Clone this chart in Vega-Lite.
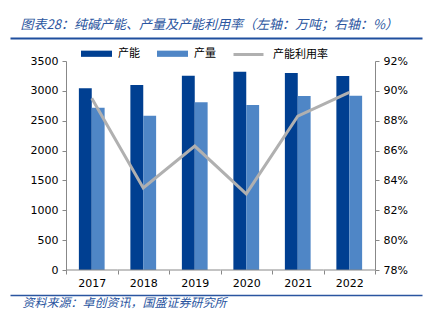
{
  "$schema": "https://vega.github.io/schema/vega-lite/v6.json",
  "width": 412,
  "height": 209,
  "autosize": {"type": "none"},
  "padding": {"left": 10, "top": 61, "right": 9, "bottom": 52},
  "background": "white",
  "config": {
    "view": {"stroke": null},
    "font": "DejaVu Sans",
    "axis": {"grid": false, "labelColor": "#000000", "labelFontSize": 11, "labelFont": "DejaVu Sans", "labelFontWeight": "normal"}
  },
  "datasets": {
    "bars": [
      {"year": "2017", "series": "产能", "value": 3043},
      {"year": "2017", "series": "产量", "value": 2718},
      {"year": "2018", "series": "产能", "value": 3098},
      {"year": "2018", "series": "产量", "value": 2584},
      {"year": "2019", "series": "产能", "value": 3254},
      {"year": "2019", "series": "产量", "value": 2808},
      {"year": "2020", "series": "产能", "value": 3321},
      {"year": "2020", "series": "产量", "value": 2763},
      {"year": "2021", "series": "产能", "value": 3299},
      {"year": "2021", "series": "产量", "value": 2914},
      {"year": "2022", "series": "产能", "value": 3249},
      {"year": "2022", "series": "产量", "value": 2919}
    ],
    "rate": [
      {"year": "2017", "rate": 0.895},
      {"year": "2018", "rate": 0.835},
      {"year": "2019", "rate": 0.863},
      {"year": "2020", "rate": 0.831},
      {"year": "2021", "rate": 0.883},
      {"year": "2022", "rate": 0.899}
    ]
  },
  "layer": [
    {
      "layer": [
        {
          "data": {"name": "bars"},
          "mark": {"type": "bar"},
          "encoding": {
            "x": {
              "field": "year", "type": "nominal",
              "scale": {"paddingInner": 0, "paddingOuter": 1, "align": 0.5437},
              "axis": {
                "orient": "bottom", "title": null, "labelAngle": 0, "domain": false,
                "tickBand": "extent", "tickColor": "#888888", "tickSize": 4,
                "labelPadding": 3, "labelFontSize": 11
              }
            },
            "xOffset": {
              "field": "series", "type": "nominal",
              "scale": {"domain": ["产能", "产量"], "paddingInner": 0, "paddingOuter": 1.077}
            },
            "y": {
              "field": "value", "type": "quantitative",
              "scale": {"domain": [0, 3500], "nice": false},
              "axis": {
                "orient": "left", "offset": -56, "title": null, "format": "d",
                "labelOverlap": false, "tickCount": 8,
                "values": [0, 500, 1000, 1500, 2000, 2500, 3000, 3500],
                "domainColor": "#888888", "tickColor": "#888888", "tickSize": 4,
                "labelPadding": 4
              }
            },
            "color": {
              "field": "series", "type": "nominal",
              "scale": {"domain": ["产能", "产量"], "range": ["#003f91", "#4f86c6"]},
              "legend": {
                "title": null, "orient": "none", "legendX": 71, "legendY": -23,
                "direction": "horizontal",
                "symbolType": "M-1,-0.2H1V0.2H-1Z", "symbolSize": 961,
                "symbolStrokeWidth": 0, "symbolOpacity": 1,
                "labelOffset": 6, "columnPadding": 17,
                "labelFont": "Noto Sans CJK SC", "labelFontSize": 11, "labelColor": "#000000"
              }
            }
          }
        },
        {
          "data": {"name": "rate"},
          "mark": {"type": "rule", "color": "#888888", "strokeWidth": 1},
          "encoding": {
            "x": {"field": "year", "type": "nominal", "bandPosition": 0,
              "axis": {
                "orient": "bottom", "offset": 25, "labels": false, "ticks": false,
                "domainColor": "#2a55a0", "domainWidth": 1.5,
                "title": "资料来源：卓创资讯，国盛证券研究所",
                "titleFont": "Noto Sans CJK SC", "titleFontSize": 12, "titleFontStyle": "italic",
                "titleFontWeight": "normal", "titleColor": "#2a55a0",
                "titleAlign": "left", "titleBaseline": "alphabetic", "titleX": 12, "titleY": 11
              }
            },
            "x2": {"field": "year", "bandPosition": 1},
            "y": {
              "datum": 0,
              "axis": {
                "orient": "left", "offset": -56, "title": null, "format": "d",
                "labelOverlap": false, "tickCount": 8,
                "values": [0, 500, 1000, 1500, 2000, 2500, 3000, 3500],
                "domainColor": "#888888", "tickColor": "#888888", "tickSize": 4,
                "labelPadding": 4
              }
            }
          }
        }
      ],
      "resolve": {"axis": {"x": "independent"}}
    },
    {
      "data": {"name": "rate"},
      "mark": {"type": "line", "strokeWidth": 3},
      "encoding": {
        "x": {
          "field": "year", "type": "nominal",
          "axis": {
            "orient": "top", "offset": 23, "labels": false, "ticks": false,
            "domainColor": "#1f4e9e", "domainWidth": 2,
            "title": "图表28：纯碱产能、产量及产能利用率（左轴：万吨；右轴：%）",
            "titleFont": "Noto Sans CJK SC", "titleFontSize": 13, "titleFontStyle": "italic",
            "titleFontWeight": "normal", "titleColor": "#2a55a0",
            "titleAlign": "left", "titleBaseline": "alphabetic", "titleX": 10, "titleY": -10
          }
        },
        "y": {
          "field": "rate", "type": "quantitative",
          "scale": {"domain": [0.78, 0.92], "nice": false, "zero": false},
          "axis": {
            "orient": "right", "offset": -47, "title": null, "format": ".0%",
            "labelOverlap": false,
            "values": [0.78, 0.8, 0.82, 0.84, 0.86, 0.88, 0.9, 0.92],
            "domainColor": "#888888", "tickColor": "#888888", "tickSize": 4,
            "labelPadding": 4
          }
        },
        "stroke": {
          "datum": "产能利用率",
          "scale": {"range": ["#b0b0b0"]},
          "legend": {
            "title": null, "orient": "none", "legendX": 222, "legendY": -23,
            "symbolType": "stroke", "symbolSize": 900, "symbolStrokeWidth": 3,
            "labelOffset": 8,
            "labelFont": "Noto Sans CJK SC", "labelFontSize": 11, "labelColor": "#000000"
          }
        }
      }
    }
  ],
  "resolve": {"scale": {"y": "independent"}, "axis": {"x": "independent"}}
}
